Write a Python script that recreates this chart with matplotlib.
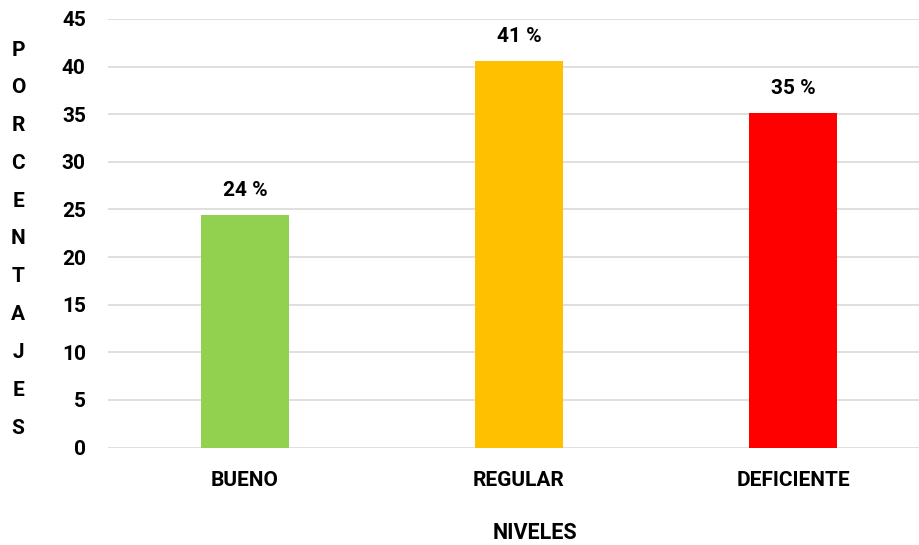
import matplotlib
matplotlib.use("Agg")
import matplotlib.pyplot as plt

plt.rcParams['font.family'] = ['Roboto', 'DejaVu Sans']

categories = ["BUENO", "REGULAR", "DEFICIENTE"]
values = [24.4, 40.6, 35.1]
colors = ["#92D050", "#FFC000", "#FF0000"]
y_ticks = [0, 5, 10, 15, 20, 25, 30, 35, 40, 45]
y_title = "PORCENTAJES"

FS = 15
W, H = 920, 545
fig = plt.figure(figsize=(W / 100, H / 100), dpi=100)
ax = fig.add_axes([108 / W, (H - 447.5) / H, 822 / W, 428.5 / H])

x = list(range(len(categories)))
ax.bar(x, values, width=0.32, color=colors, zorder=3)

for xi, v in zip(x, values):
    ax.annotate(f"{v:.0f} %", (xi, v), xytext=(0, 11), textcoords="offset points",
                ha="center", va="bottom", fontsize=FS, fontweight="bold")

ax.set_xlim(-0.5, 2.5)
ax.set_ylim(0, 45)
ax.set_yticks(y_ticks)
ax.set_xticks(x)
ax.set_xticklabels(categories)
ax.grid(axis="y", color="#d9d9d9", linewidth=1.2, zorder=0)
for s in ax.spines.values():
    s.set_visible(False)
ax.tick_params(axis="both", length=0, labelsize=FS)
ax.tick_params(axis="y", pad=16)
ax.tick_params(axis="x", pad=17)
for lbl in ax.get_xticklabels() + ax.get_yticklabels():
    lbl.set_fontweight("bold")

fig.text(535 / W, (H - 533) / H, "NIVELES", ha="center", va="center",
         fontsize=FS + 0.5, fontweight="bold")

# vertical title, one letter per row
n = len(y_title)
top_px, bot_px = 50, 428
for i, ch in enumerate(y_title):
    ypx = top_px + i * (bot_px - top_px) / (n - 1)
    fig.text(18 / W, (H - ypx) / H, ch, ha="center", va="center",
             fontsize=FS, fontweight="bold")

fig.savefig("out.png", dpi=100, facecolor="white")
